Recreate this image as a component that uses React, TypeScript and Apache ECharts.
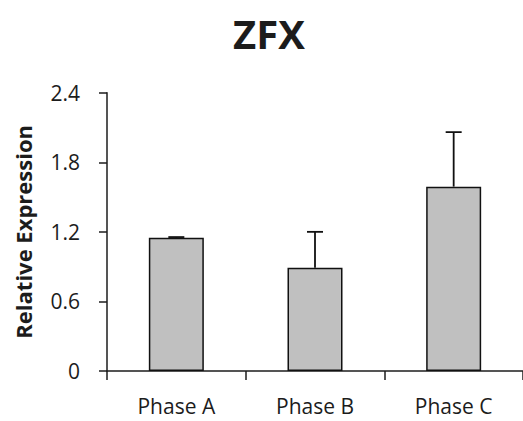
import React, { useEffect, useRef } from "react";
import * as echarts from "echarts";

const categories = ["Phase A", "Phase B", "Phase C"];
const expression = [1.15, 0.89, 1.59];
const errorUp = [0.005, 0.31, 0.47];
const yTicks = { min: 0, max: 2.4, interval: 0.6 };

const FONT = "'Open Sans', 'Liberation Sans', sans-serif";
const INK = "#1c1c1c";

export default function App() {
  const ref = useRef<HTMLDivElement>(null);

  useEffect(() => {
    if (!ref.current) return;
    const chart = echarts.init(ref.current, null, { renderer: "svg" });

    const errorData = categories.map((_, i) => [i, expression[i], expression[i] + errorUp[i]]);

    chart.setOption({
      animation: false,
      backgroundColor: "#ffffff",
      title: {
        text: "ZFX",
        left: 264,
        textAlign: "center",
        top: 8,
        textStyle: { fontFamily: FONT, fontWeight: "bold", fontSize: 40, color: INK },
      },
      grid: { left: 107, top: 92.7, bottom: 50, right: -3 },
      xAxis: {
        type: "category",
        data: categories,
        axisLine: { lineStyle: { color: INK, width: 1.5 } },
        axisTick: { show: true, length: 9, alignWithLabel: false, lineStyle: { color: INK, width: 1.5 } },
        axisLabel: { fontFamily: FONT, fontSize: 21, color: INK, margin: 24 },
      },
      yAxis: {
        type: "value",
        min: yTicks.min,
        max: yTicks.max,
        interval: yTicks.interval,
        name: "Relative Expression",
        nameLocation: "middle",
        nameGap: 73,
        nameTextStyle: { fontFamily: FONT, fontWeight: "bold", fontSize: 22, color: INK },
        splitLine: { show: false },
        axisLine: { show: true, lineStyle: { color: INK, width: 1.5 } },
        axisTick: { show: true, length: 8, lineStyle: { color: INK, width: 1.5 } },
        axisLabel: {
          fontFamily: FONT,
          fontSize: 21,
          color: INK,
          margin: 27,
          formatter: (v: number) => (v === 0 ? "0" : v.toFixed(1)),
        },
      },
      series: [
        {
          type: "bar",
          data: expression,
          barWidth: 55,
          itemStyle: { color: "#c0c0c0", borderColor: "#111", borderWidth: 1.5 },
        },
        {
          type: "custom",
          data: errorData,
          z: 3,
          renderItem: (_params: any, api: any) => {
            const i = api.value(0);
            const base = api.coord([i, api.value(1)]);
            const top = api.coord([i, api.value(2)]);
            const half = 8;
            const style = { stroke: "#111", lineWidth: 1.8 };
            return {
              type: "group",
              children: [
                { type: "line", shape: { x1: base[0], y1: base[1], x2: top[0], y2: top[1] }, style },
                { type: "line", shape: { x1: top[0] - half, y1: top[1], x2: top[0] + half, y2: top[1] }, style },
              ],
            };
          },
        },
      ],
    });

    return () => chart.dispose();
  }, []);

  return <div ref={ref} style={{ width: 523, height: 421, position: "absolute", left: 0, top: 0 }} />;
}
